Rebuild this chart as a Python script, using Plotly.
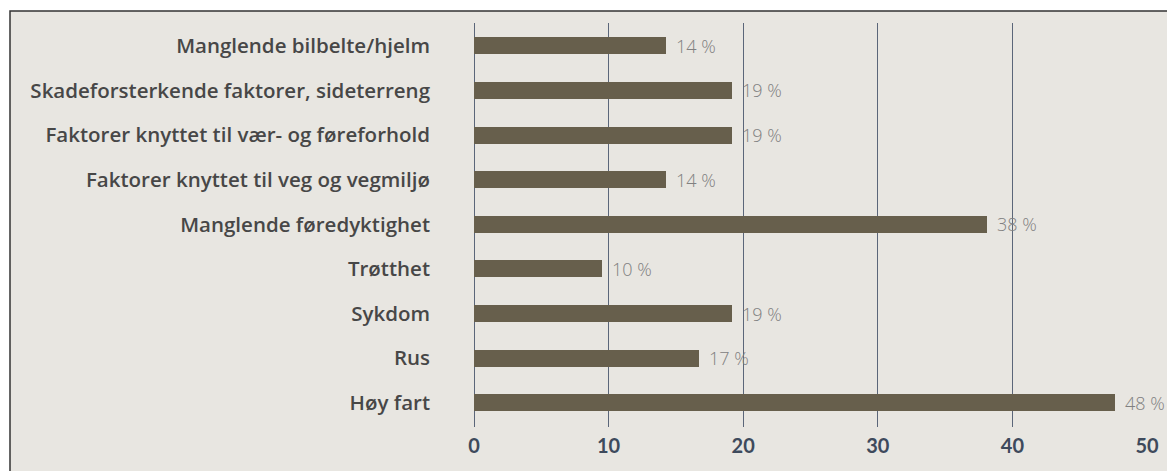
import plotly.graph_objects as go

# ---- data (top to bottom as shown) ----
categories = [
    "Manglende bilbelte/hjelm",
    "Skadeforsterkende faktorer, sideterreng",
    "Faktorer knyttet til vær- og føreforhold",
    "Faktorer knyttet til veg og vegmiljø",
    "Manglende føredyktighet",
    "Trøtthet",
    "Sykdom",
    "Rus",
    "Høy fart",
]
values = [14.3, 19.2, 19.2, 14.3, 38.1, 9.5, 19.2, 16.7, 47.6]
value_labels = ["14 %", "19 %", "19 %", "14 %", "38 %", "10 %", "19 %", "17 %", "48 %"]
x_ticks = [0, 10, 20, 30, 40, 50]

# ---- layout constants ----
W, H = 1167, 471
ML, MR, MT, MB = 474, 20, 23, 44
BG = "#e8e6e1"
BAR = "#675f4c"
GRID = "#5b6679"

n = len(categories)
ypos = list(range(n - 1, -1, -1))  # top item highest

fig = go.Figure()
fig.add_trace(go.Bar(
    x=values, y=ypos, orientation="h", width=0.38,
    marker=dict(color=BAR, line=dict(width=0)),
    hoverinfo="skip", showlegend=False,
))

for v, y, t in zip(values, ypos, value_labels):
    fig.add_annotation(
        x=v, y=y, text=t, showarrow=False, xanchor="left", yanchor="middle",
        xshift=8, font=dict(family="Open Sans", size=18, color="#808080", weight=300),
    )

pw = W - ML - MR
ph = H - MT - MB
# frame / background panel (pixel positions)
fx0, fy0 = 10, 11
fig.add_shape(
    type="rect", xref="paper", yref="paper", layer="below",
    x0=(fx0 - ML) / pw, x1=(W + 5 - ML) / pw,
    y0=(H - MB - (H + 5)) / ph, y1=(H - MB - fy0) / ph,
    fillcolor=BG, line=dict(color="#333333", width=1.5),
)

fig.update_layout(
    width=W, height=H,
    margin=dict(l=ML, r=MR, t=MT, b=MB, autoexpand=False),
    paper_bgcolor="white", plot_bgcolor="rgba(0,0,0,0)",
    bargap=0,
    xaxis=dict(
        range=[0, 50], tickvals=x_ticks, ticks="", showline=False,
        showgrid=True, gridcolor=GRID, gridwidth=1, zeroline=True,
        zerolinecolor=GRID, zerolinewidth=1,
        tickfont=dict(family="Lato", size=20, color="#3e4a5c", weight=700),
        ticklabelstandoff=5, fixedrange=True,
    ),
    yaxis=dict(
        range=[-0.54, 8.51], tickvals=ypos, ticktext=categories, ticks="",
        showgrid=False, zeroline=False, showline=False,
        tickfont=dict(family="Open Sans", size=20.5, color="#474747", weight=600),
        ticklabelstandoff=43, fixedrange=True,
    ),
)

fig.write_html(
    "out.html",
    config={"displayModeBar": False, "staticPlot": True},
    post_script="document.body.style.margin='0px';document.body.style.overflow='hidden';",
)
